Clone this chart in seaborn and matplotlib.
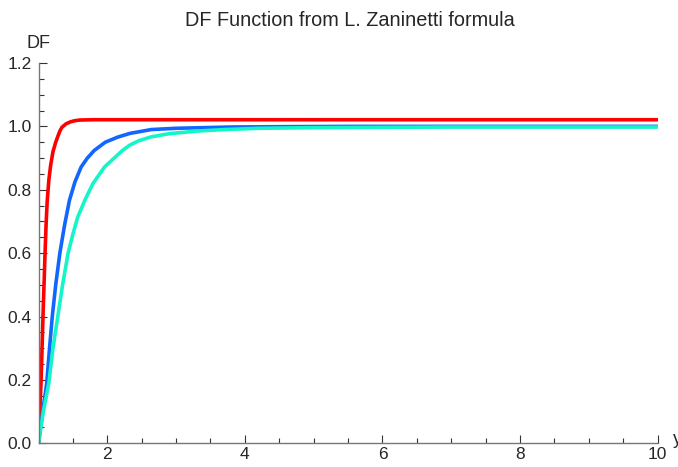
import numpy as np
import pandas as pd
import matplotlib
matplotlib.use('Agg')
import matplotlib.pyplot as plt
import seaborn as sns
from matplotlib.ticker import MultipleLocator

# valores
red_x = [1.0, 1.018, 1.036, 1.05, 1.065, 1.08, 1.095, 1.11, 1.125, 1.15, 1.175, 1.21, 1.25, 1.28, 1.31, 1.34, 1.40, 1.46, 1.53, 1.6, 1.8, 2.0, 4.0, 10.0]
red_y = [0.0, 0.095, 0.19, 0.29, 0.40, 0.50, 0.60, 0.69, 0.76, 0.83, 0.875, 0.92, 0.95, 0.968, 0.985, 0.997, 1.008, 1.014, 1.018, 1.02, 1.021, 1.021, 1.021, 1.021]

blue_x = [1.0, 1.06, 1.12, 1.16, 1.20, 1.25, 1.31, 1.38, 1.45, 1.53, 1.62, 1.71, 1.81, 1.97, 2.15, 2.33, 2.64, 3.0, 3.4, 3.78, 4.5, 5.5, 10.0]
blue_y = [0.0, 0.10, 0.19, 0.30, 0.40, 0.50, 0.60, 0.69, 0.767, 0.825, 0.872, 0.90, 0.924, 0.95, 0.966, 0.978, 0.99, 0.994, 0.996, 0.998, 0.999, 1.0, 1.0]

cyan_x = [1.0, 1.07, 1.15, 1.21, 1.28, 1.35, 1.43, 1.50, 1.57, 1.68, 1.79, 1.96, 2.1, 2.22, 2.32, 2.46, 2.64, 2.9, 3.29, 3.7, 4.2, 5.0, 6.0, 7.0, 10.0]
cyan_y = [0.0, 0.10, 0.19, 0.30, 0.40, 0.50, 0.60, 0.66, 0.714, 0.77, 0.819, 0.872, 0.90, 0.924, 0.94, 0.955, 0.967, 0.977, 0.985, 0.99, 0.994, 0.996, 0.997, 0.998, 0.998]

curvas = ['a', 'b', 'c']
cores = ['#FF0000', '#1166FF', '#14F5C8']

df = pd.concat([
    pd.DataFrame({'x': red_x, 'DF': red_y, 'curva': 'a'}),
    pd.DataFrame({'x': blue_x, 'DF': blue_y, 'curva': 'b'}),
    pd.DataFrame({'x': cyan_x, 'DF': cyan_y, 'curva': 'c'}),
])

sns.set_style('ticks')
plt.rcParams['font.family'] = ['Liberation Sans', 'DejaVu Sans']

fig = plt.figure(figsize=(6.78, 4.67), dpi=100)
ax = fig.add_axes([0.0568, 0.0507, 0.9132, 0.8144])

sns.lineplot(data=df, x='x', y='DF', hue='curva', hue_order=curvas,
             palette=cores, sort=False, estimator=None, linewidth=2.6,
             legend=False, ax=ax)

ax.set_xlim(1, 10)
ax.set_ylim(0, 1.2)
ax.xaxis.set_major_locator(MultipleLocator(2))
ax.xaxis.set_minor_locator(MultipleLocator(0.5))
ax.yaxis.set_major_locator(MultipleLocator(0.2))
ax.yaxis.set_minor_locator(MultipleLocator(0.05))
ax.yaxis.set_major_formatter(matplotlib.ticker.FormatStrFormatter('%.1f'))
ax.set_xticks([2, 4, 6, 8, 10])

for s in ['top', 'right']:
    ax.spines[s].set_visible(False)
for s in ['left', 'bottom']:
    ax.spines[s].set_color('#777777')
    ax.spines[s].set_linewidth(1.0)

ax.tick_params(which='major', direction='in', length=6, width=0.8, color='#333333', labelsize=12.5)
ax.tick_params(which='minor', direction='in', length=3.5, width=0.8, color='#333333')
ax.tick_params(axis='x', which='major', pad=3)
ax.tick_params(axis='y', which='major', pad=5)

ax.set_xlabel('')
ax.set_ylabel('')
fig.text(350 / 678, 1 - 20 / 467, 'DF Function from L. Zaninetti formula',
         ha='center', va='center', fontsize=14.3)
fig.text(38 / 678, 1 - 43 / 467, 'DF', ha='center', va='center', fontsize=13)
fig.text(673 / 678, 1 - 440 / 467, 'y', ha='left', va='center', fontsize=13)

fig.savefig('out.png', dpi=100)
